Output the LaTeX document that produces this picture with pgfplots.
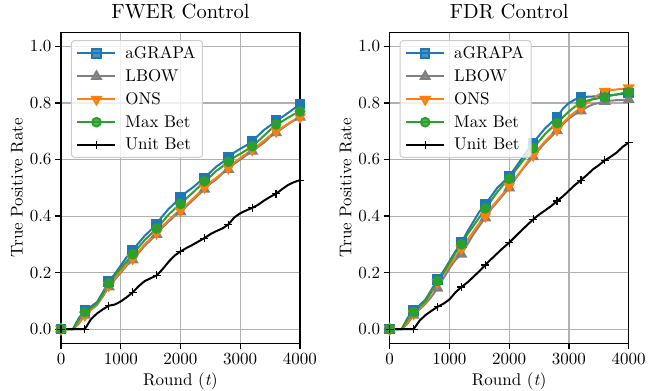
\documentclass[border=0pt]{standalone}
\usepackage{fontspec}
\setmainfont{lmroman10-regular.otf}[ItalicFont=lmroman10-italic.otf,BoldFont=lmroman10-bold.otf]
\usepackage{pgfplots}
\pgfplotsset{compat=1.18}
\usepackage{pgfplotstable}
\definecolor{tabblue}{HTML}{1F77B4}
\definecolor{tabgray}{HTML}{7F7F7F}
\definecolor{taborange}{HTML}{FF7F0E}
\definecolor{tabgreen}{HTML}{2CA02C}
\definecolor{gridgray}{HTML}{B0B0B0}
\definecolor{legframe}{HTML}{CCCCCC}

\pgfplotstableread{
x a l o m u
0 0 0 0 0 0
100 0 0 0 0 0
200 0 0 0 0 0
300 0.04 0.02 0.025 0.035 0
400 0.065 0.05 0.05 0.06 0
500 0.08 0.068 0.07 0.075 0.035
600 0.095 0.085 0.087 0.09 0.055
700 0.13 0.115 0.12 0.125 0.07
800 0.168 0.15 0.155 0.162 0.083
900 0.195 0.175 0.18 0.19 0.087
1000 0.225 0.2 0.205 0.215 0.098
1100 0.255 0.225 0.23 0.24 0.113
1200 0.279 0.245 0.25 0.265 0.13
1300 0.305 0.27 0.275 0.29 0.152
1400 0.33 0.295 0.3 0.315 0.17
1500 0.35 0.315 0.32 0.335 0.18
1600 0.372 0.335 0.34 0.356 0.19
1700 0.4 0.36 0.365 0.38 0.212
1800 0.425 0.38 0.385 0.405 0.238
1900 0.445 0.4 0.405 0.425 0.26
2000 0.465 0.415 0.42 0.443 0.275
2100 0.485 0.435 0.44 0.463 0.287
2200 0.5 0.455 0.46 0.482 0.298
2300 0.518 0.475 0.48 0.502 0.31
2400 0.535 0.495 0.502 0.523 0.322
2500 0.555 0.515 0.52 0.54 0.336
2600 0.575 0.53 0.535 0.56 0.347
2700 0.59 0.55 0.553 0.575 0.356
2800 0.608 0.565 0.57 0.592 0.37
2900 0.625 0.585 0.59 0.608 0.395
3000 0.638 0.6 0.605 0.62 0.41
3100 0.65 0.615 0.62 0.633 0.42
3200 0.664 0.63 0.635 0.647 0.429
3300 0.685 0.645 0.65 0.665 0.44
3400 0.705 0.66 0.667 0.685 0.455
3500 0.72 0.68 0.684 0.705 0.468
3600 0.738 0.695 0.7 0.724 0.479
3700 0.75 0.71 0.713 0.735 0.495
3800 0.765 0.725 0.727 0.748 0.51
3900 0.78 0.738 0.74 0.76 0.52
4000 0.796 0.75 0.75 0.77 0.527
}\fwer

\pgfplotstableread{
x a l o m u
0 0 0 0 0 0
100 0 0 0 0 0
200 0 0 0 0 0
300 0.04 0.02 0.025 0.035 0
400 0.065 0.05 0.055 0.06 0
500 0.085 0.07 0.075 0.08 0.03
600 0.105 0.09 0.095 0.1 0.05
700 0.14 0.115 0.13 0.135 0.065
800 0.175 0.145 0.165 0.17 0.079
900 0.205 0.18 0.195 0.2 0.09
1000 0.24 0.215 0.225 0.235 0.105
1100 0.275 0.245 0.255 0.27 0.13
1200 0.306 0.265 0.285 0.3 0.149
1300 0.345 0.3 0.315 0.335 0.165
1400 0.38 0.335 0.345 0.365 0.185
1500 0.415 0.365 0.375 0.395 0.205
1600 0.443 0.394 0.4 0.427 0.227
1700 0.47 0.425 0.43 0.455 0.248
1800 0.5 0.45 0.455 0.485 0.268
1900 0.52 0.475 0.48 0.51 0.288
2000 0.541 0.5 0.506 0.532 0.306
2100 0.57 0.53 0.533 0.56 0.327
2200 0.6 0.56 0.56 0.588 0.348
2300 0.63 0.585 0.59 0.615 0.368
2400 0.659 0.61 0.615 0.64 0.388
2500 0.685 0.635 0.64 0.665 0.405
2600 0.71 0.66 0.665 0.69 0.42
2700 0.73 0.68 0.686 0.71 0.435
2800 0.749 0.702 0.706 0.729 0.453
2900 0.78 0.725 0.73 0.75 0.47
3000 0.8 0.745 0.75 0.77 0.49
3100 0.812 0.76 0.768 0.787 0.51
3200 0.82 0.772 0.782 0.8 0.527
3300 0.822 0.785 0.8 0.808 0.545
3400 0.823 0.795 0.815 0.813 0.565
3500 0.824 0.8 0.83 0.817 0.58
3600 0.826 0.806 0.841 0.82 0.597
3700 0.828 0.808 0.845 0.826 0.61
3800 0.83 0.81 0.848 0.83 0.625
3900 0.832 0.811 0.85 0.835 0.645
4000 0.835 0.812 0.853 0.838 0.66
}\fdr

\pgfplotsset{
  myax/.style={
    scale only axis, width=239bp, height=311bp,
    xmin=0, xmax=4000, ymin=-0.05, ymax=1.05,
    xtick={0,1000,2000,3000,4000},
    ytick={0,0.2,0.4,0.6,0.8,1.0},
    /pgf/number format/assume math mode=true,
    yticklabel style={/pgf/number format/.cd,fixed,fixed zerofill,precision=1},
    xticklabel style={/pgf/number format/.cd,set thousands separator={}},
    tick label style={font=\fontsize{17bp}{20bp}\selectfont},
    label style={font=\fontsize{17bp}{20bp}\selectfont},
    title style={font=\fontsize{20.5bp}{24bp}\selectfont, at={(axis description cs:0.5,1)}, anchor=base, yshift=8bp},
    xlabel={Round (\textit{t})}, ylabel={True Positive Rate},
    xlabel style={at={(axis description cs:0.5,0)}, anchor=center, yshift=-38.4bp},
    ylabel style={at={(axis description cs:-0.184,0.5)}, anchor=center},
    grid=major, major grid style={gridgray, line width=1.1bp},
    axis line style={black, line width=1.3bp},
    tick align=outside, major tick length=6bp,
    tick style={black, line width=1.3bp},
    xtick pos=bottom, ytick pos=left,
    mark repeat=4,
    every axis plot/.append style={line width=2bp},
    legend cell align=left,
    legend style={at={(0.0418,0.975)}, anchor=north west,
      font=\fontsize{17bp}{20bp}\selectfont,
      draw=legframe, line width=1bp, rounded corners=3bp, fill=white, fill opacity=0.8, text opacity=1,
      row sep=5.5bp, inner xsep=5bp, inner ysep=4bp,
      /tikz/every odd column/.append style={column sep=7bp}},
    legend image code/.code={\draw[mark repeat=2,mark phase=2,#1] plot coordinates {(0bp,0bp)(19bp,0bp)(38bp,0bp)};},
  },
  sA/.style={tabblue, mark=square*, mark size=4.3bp, mark options={solid}},
  sL/.style={tabgray, mark=triangle*, mark size=5bp},
  sO/.style={taborange, mark=triangle*, mark size=5bp, mark options={rotate=180}},
  sM/.style={tabgreen, mark=*, mark size=4.3bp},
  sU/.style={black, mark=+, mark size=4bp, mark options={line width=1.2bp}},
}

\begin{document}
\begin{tikzpicture}
\useasboundingbox (-61bp,-47.7bp) rectangle (587bp,343.3bp);
\begin{axis}[myax, title={FWER Control}]
\addplot[sA] table[x=x,y=a]{\fwer}; \addlegendentry{aGRAPA}
\addplot[sL] table[x=x,y=l]{\fwer}; \addlegendentry{LBOW}
\addplot[sO] table[x=x,y=o]{\fwer}; \addlegendentry{ONS}
\addplot[sM] table[x=x,y=m]{\fwer}; \addlegendentry{Max Bet}
\addplot[sU] table[x=x,y=u]{\fwer}; \addlegendentry{Unit Bet}
\end{axis}
\begin{axis}[myax, at={(328.7bp,0)}, title={FDR Control}]
\addplot[sA] table[x=x,y=a]{\fdr}; \addlegendentry{aGRAPA}
\addplot[sL] table[x=x,y=l]{\fdr}; \addlegendentry{LBOW}
\addplot[sO] table[x=x,y=o]{\fdr}; \addlegendentry{ONS}
\addplot[sM] table[x=x,y=m]{\fdr}; \addlegendentry{Max Bet}
\addplot[sU] table[x=x,y=u]{\fdr}; \addlegendentry{Unit Bet}
\end{axis}
\end{tikzpicture}
\end{document}
